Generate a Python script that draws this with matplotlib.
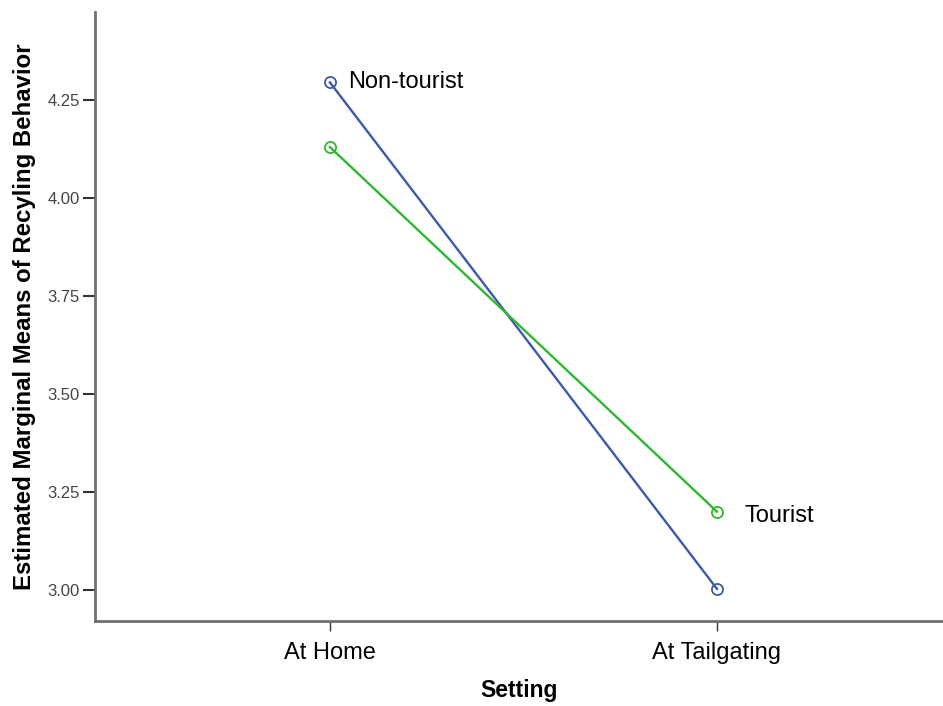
import matplotlib
matplotlib.use("Agg")
import matplotlib.pyplot as plt

settings = ["At Home", "At Tailgating"]
non_tourist = [4.295, 3.003]
tourist = [4.13, 3.20]
y_ticks = [3.00, 3.25, 3.50, 3.75, 4.00, 4.25]
y_tick_labels = ["3.00", "3.25", "3.50", "3.75", "4.00", "4.25"]

plt.rcParams["font.family"] = ["Liberation Sans", "DejaVu Sans"]

fig = plt.figure(figsize=(9.43, 7.06), dpi=100)
ax = fig.add_axes([0.1007, 0.1204, 0.8993, 0.8626])

x = list(range(len(settings)))
blue = "#3E58AC"
green = "#2EB82E"
ax.plot(x, non_tourist, color=blue, lw=1.7, marker="o", ms=8, mfc="none",
        mec=blue, mew=1.3)
ax.plot(x, tourist, color=green, lw=1.7, marker="o", ms=8, mfc="none",
        mec=green, mew=1.3)

ax.text(x[0] + 0.048, non_tourist[0], "Non-tourist", fontsize=17,
        va="center", ha="left")
ax.text(x[1] + 0.072, tourist[1] - 0.01, "Tourist", fontsize=17,
        va="center", ha="left")

ax.set_xlim(-0.607, 1.584)
ax.set_ylim(2.921, 4.4745)
ax.set_xticks(x)
ax.set_xticklabels(settings, fontsize=17)
ax.set_yticks(y_ticks)
ax.set_yticklabels(y_tick_labels, fontsize=12, color="#444444")

for side in ("top", "right"):
    ax.spines[side].set_visible(False)
for side in ("left", "bottom"):
    ax.spines[side].set_color("#707070")
    ax.spines[side].set_linewidth(2)

ax.tick_params(axis="y", length=9, width=1.5, color="#333333", pad=2)
ax.tick_params(axis="x", length=7, width=1, color="#333333", pad=8)

ax.set_xlabel("Setting", fontsize=16.5, fontweight="bold", labelpad=11)
ax.set_ylabel("Estimated Marginal Means of Recyling Behavior", fontsize=17.3,
              fontweight="bold", labelpad=8)

fig.savefig("out.png", dpi=100)
